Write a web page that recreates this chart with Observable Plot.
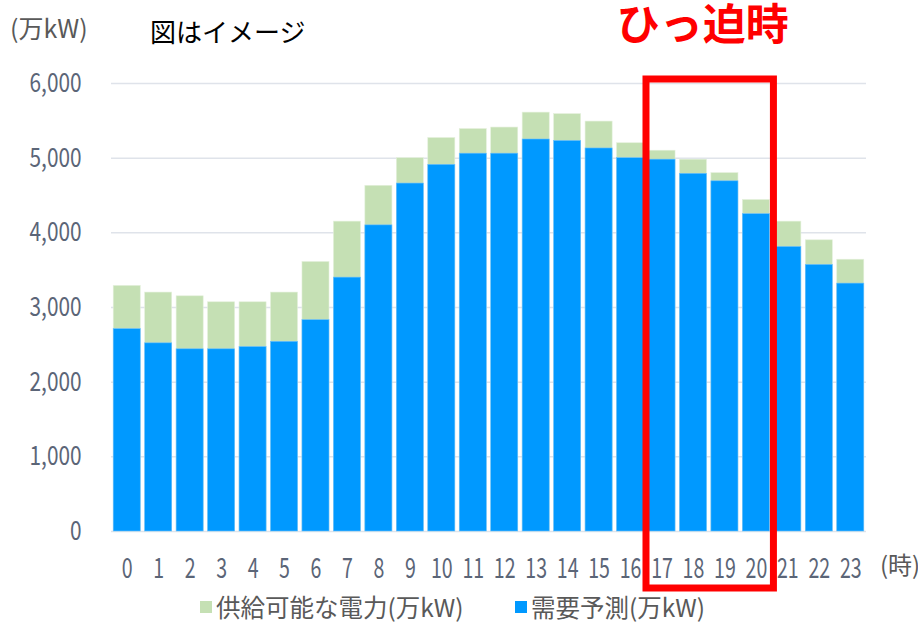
<!DOCTYPE html>
<html><head><meta charset="utf-8">
<script src="https://cdn.jsdelivr.net/npm/d3@7"></script>
<script src="https://cdn.jsdelivr.net/npm/@observablehq/plot@0.6"></script>
<style>
body{margin:0;background:#fff;}
svg{font-family:"Noto Sans CJK JP","Noto Sans",sans-serif;}
</style></head>
<body><div id="chart"></div>
<script>
const hours = ["0","1","2","3","4","5","6","7","8","9","10","11","12","13","14","15","16","17","18","19","20","21","22","23"];
const supply = [3290,3200,3150,3070,3070,3200,3610,4150,4630,5000,5270,5390,5410,5610,5590,5490,5200,5100,4980,4800,4440,4150,3900,3640];
const demand = [2710,2520,2440,2440,2470,2540,2830,3400,4100,4660,4910,5060,5060,5250,5230,5130,5000,4980,4790,4690,4250,3810,3570,3320];
const yTicks = [0,1000,2000,3000,4000,5000,6000];
const highlight = ["17","20"];
const seriesNames = ["供給可能な電力(万kW)","需要予測(万kW)"];
const colors = ["#c5e0b4","#0099ff"];

const rows = hours.map((h,i)=>({hour:h, supply:supply[i], demand:demand[i]}));

const plot = Plot.plot({
  width: 918, height: 624,
  marginLeft: 111, marginRight: 52, marginTop: 83, marginBottom: 93,
  x: {type:"band", domain: hours, paddingInner: 0.14, paddingOuter: 0.07, round: false, label: null},
  y: {domain:[0,6000], label: null},
  marks: [
    Plot.gridY(yTicks, {stroke:"#dfe3ea", strokeOpacity:1, strokeWidth:1.5}),
    Plot.barY(rows, {x:"hour", y:"supply", fill:colors[0], stroke:"#e4f0dc", strokeWidth:0.6}),
    Plot.barY(rows, {x:"hour", y:"demand", fill:colors[1], stroke:"#6cc0ff", strokeWidth:0.6}),
    Plot.axisY({ticks: yTicks, tickSize:0, tickPadding:30, tickFormat: d3.format(","), fontSize:26, color:"#5b6577", label: null}),
    Plot.axisX({tickSize:0, tickPadding:27, fontSize:28, color:"#5b6577", label: null})
  ]
});
document.getElementById("chart").appendChild(plot);

const svg = d3.select(plot);
svg.selectAll('g[aria-label="x-axis tick label"] text').attr("transform", function(){return d3.select(this).attr("transform") + " scale(0.7,1)";});
svg.selectAll('g[aria-label="y-axis tick label"] text').attr("transform", function(){return d3.select(this).attr("transform") + " scale(0.8,1)";});

const x = plot.scale("x"), y = plot.scale("y");
const bw = x.bandwidth;
const rx1 = x.apply(highlight[0]) - 2, rx2 = x.apply(highlight[1]) + bw + 4;
const ry1 = y.apply(6000) - 4, ry2 = y.apply(0) + 57;
svg.append("rect").attr("x", rx1).attr("y", ry1).attr("width", rx2-rx1).attr("height", ry2-ry1)
  .attr("fill","none").attr("stroke","#ff0000").attr("stroke-width",7);
svg.append("text").attr("x",(rx1+rx2)/2 - 7).attr("y",40).attr("text-anchor","middle")
  .attr("font-size",43).attr("font-weight","bold").attr("fill","#ff0000").text("ひっ迫時");

const ann = svg.append("g").attr("text-anchor","start");
ann.append("text").attr("x",10).attr("y",38).attr("font-size",25).attr("fill","#595959").text("(万kW)");
ann.append("text").attr("x",150).attr("y",42).attr("font-size",26).attr("fill","#000").text("図はイメージ");
ann.append("text").attr("x",880).attr("y",574).attr("font-size",24).attr("fill","#595959").text("(時)");

const legX = [200, 515];
seriesNames.forEach((name,i)=>{
  ann.append("rect").attr("x",legX[i]).attr("y",601).attr("width",12).attr("height",12).attr("fill",colors[i]);
  ann.append("text").attr("x",legX[i]+16).attr("y",617).attr("font-size",24.5).attr("fill","#595959").text(name);
});
</script></body></html>
